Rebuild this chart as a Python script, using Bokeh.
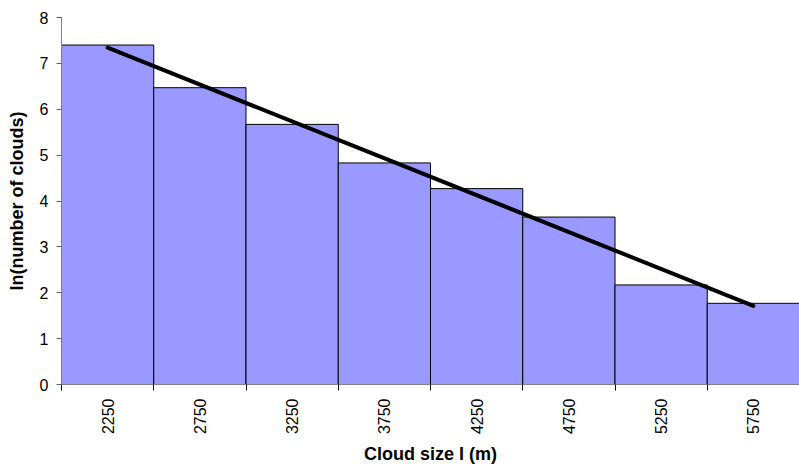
import math
import numpy as np
from bokeh.plotting import figure
from bokeh.models import FixedTicker, Range1d
from bokeh.embed import file_html
from bokeh.resources import INLINE

# Cloud size bins (m) and ln(number of clouds) per bin
cloud_size = [2250, 2750, 3250, 3750, 4250, 4750, 5250, 5750]
ln_count = [7.40, 6.47, 5.67, 4.83, 4.27, 3.65, 2.17, 1.77]
bin_width = 500
bin_edges = [2000, 2500, 3000, 3500, 4000, 4500, 5000, 5500, 6000]
y_ticks = [0, 1, 2, 3, 4, 5, 6, 7, 8]

FONT = "Liberation Sans"

p = figure(width=799, height=467, output_backend="svg", toolbar_location=None,
           x_range=Range1d(2000, 6000), y_range=Range1d(0, 8),
           min_border_left=61, min_border_right=0, min_border_top=17,
           min_border_bottom=83)
p.outline_line_color = None
p.grid.visible = False
p.background_fill_color = "white"
p.border_fill_color = "white"

# histogram bars
p.vbar(x=cloud_size, top=ln_count, width=bin_width, bottom=0,
       fill_color="#9999FF", line_color="black", line_width=1)

# linear trend through the bin values
coef = np.polyfit(np.arange(len(ln_count)), ln_count, 1)
trend = np.polyval(coef, np.arange(len(ln_count)))
p.line(x=[cloud_size[0], cloud_size[-1]], y=[trend[0], trend[-1]],
       line_color="black", line_width=4, line_cap="round")

# x axis: labels at bin centres, ticks at bin edges
xa = p.xaxis[0]
xa.ticker = FixedTicker(ticks=cloud_size, minor_ticks=bin_edges)
xa.major_label_overrides = {v: str(v) for v in cloud_size}
xa.major_label_orientation = math.pi / 2
xa.major_tick_out = 0
xa.major_tick_in = 0
xa.minor_tick_out = 6
xa.minor_tick_in = 0
xa.minor_tick_line_color = "black"
xa.axis_line_color = "#808080"
xa.major_label_standoff = 8
xa.major_label_text_font = FONT
xa.major_label_text_font_size = "16px"
xa.major_label_text_color = "black"
xa.axis_label = "Cloud size l (m)"
xa.axis_label_text_font = FONT
xa.axis_label_text_font_size = "18px"
xa.axis_label_text_font_style = "bold"
xa.axis_label_text_color = "black"
xa.axis_label_standoff = 7

ya = p.yaxis[0]
ya.ticker = FixedTicker(ticks=y_ticks, minor_ticks=[])
ya.major_tick_out = 5
ya.major_tick_in = 0
ya.major_tick_line_color = "#606060"
ya.axis_line_color = "#808080"
ya.major_label_standoff = 8
ya.major_label_text_font = FONT
ya.major_label_text_font_size = "16px"
ya.major_label_text_color = "black"
ya.axis_label = "ln(number of clouds)"
ya.axis_label_text_font = FONT
ya.axis_label_text_font_size = "18px"
ya.axis_label_text_font_style = "bold"
ya.axis_label_text_color = "black"
ya.axis_label_standoff = 10

open("out.html", "w").write(file_html(p, INLINE))
